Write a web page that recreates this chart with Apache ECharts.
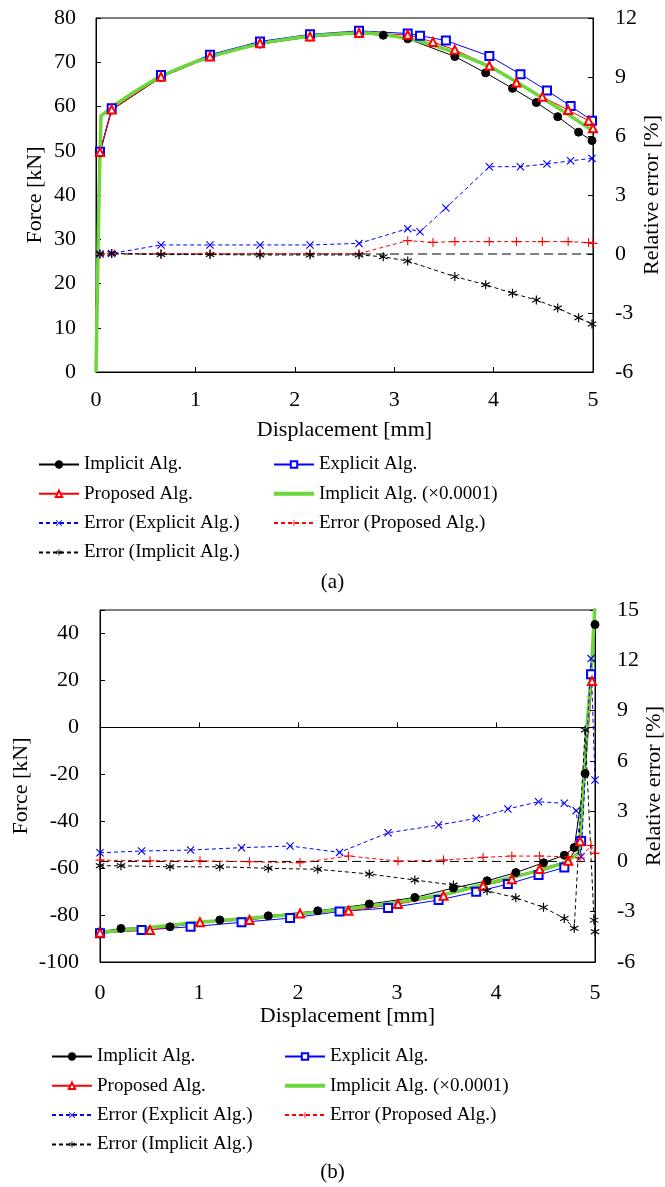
<!DOCTYPE html>
<html><head><meta charset="utf-8">
<script src="https://cdn.jsdelivr.net/npm/echarts@6/dist/echarts.min.js"></script>
<style>html,body{margin:0;padding:0;background:#fff}#c{width:665px;height:1187px}</style>
</head><body><div id="c"></div>
<script>
// ---------- (a) data ----------
const aImpX = [0, 0.04, 0.158, 0.654, 1.147, 1.65, 2.153, 2.646, 2.89, 3.136, 3.61, 3.92, 4.19, 4.43, 4.645, 4.855, 4.99];
const aImpF = [15, 49.5, 59.2, 66.6, 71.2, 74.1, 75.7, 76.5, 76.1, 75.3, 71.3, 67.6, 64.1, 60.9, 57.7, 54.2, 52.3];
const aExpX = [0.04, 0.158, 0.654, 1.147, 1.65, 2.153, 2.646, 3.136, 3.26, 3.52, 3.957, 4.27, 4.537, 4.775, 4.99];
const aExpF = [49.8, 59.6, 67.1, 71.7, 74.7, 76.3, 77.1, 76.5, 76.0, 74.9, 71.4, 67.3, 63.6, 60.1, 56.8];
const aProX = [0.04, 0.158, 0.654, 1.147, 1.65, 2.153, 2.646, 3.136, 3.39, 3.61, 3.957, 4.23, 4.49, 4.75, 4.956, 5.0];
const aProF = [49.7, 59.3, 66.7, 71.3, 74.3, 75.8, 76.6, 76.2, 74.6, 72.8, 69.2, 65.4, 62.2, 59.2, 56.8, 55.1];
const aRefX = [0, 0.03, 0.05, 0.2, 0.4, 0.6, 0.8, 1.0, 1.25, 1.5, 1.75, 2.0, 2.25, 2.5, 2.75, 3.0, 3.25, 3.5, 3.75, 4.0, 4.25, 4.5, 4.75, 5.0];
const aRefF = [0, 40, 57.9, 60.5, 63.5, 66.2, 68.3, 70.1, 71.9, 73.4, 74.6, 75.5, 76.1, 76.5, 76.6, 75.9, 74.8, 73.1, 71.0, 68.6, 65.3, 61.8, 58.2, 54.5];
const aErrExpE = [0, 0.03, 0.46, 0.46, 0.46, 0.46, 0.54, 1.29, 1.13, 2.34, 4.44, 4.44, 4.58, 4.74, 4.86];
const aErrProE = [0, 0.02, 0.02, 0.02, 0.02, 0.02, 0.02, 0.68, 0.59, 0.63, 0.63, 0.63, 0.63, 0.63, 0.58, 0.54];
const aErrImpX = [0.04, 0.158, 0.654, 1.147, 1.65, 2.153, 2.646, 2.89, 3.136, 3.61, 3.92, 4.19, 4.43, 4.645, 4.855, 4.99];
const aErrImpE = [0, 0.03, -0.03, -0.03, -0.05, -0.05, -0.05, -0.14, -0.36, -1.15, -1.56, -2.0, -2.34, -2.75, -3.24, -3.56];

// ---------- (b) data ----------
const bImpX = [0, 0.212, 0.707, 1.21, 1.7, 2.2, 2.72, 3.18, 3.57, 3.91, 4.2, 4.48, 4.69, 4.79, 4.90, 5.0];
const bImpF = [-87.1, -85.7, -85.0, -82.1, -80.3, -78.2, -75.3, -72.5, -68.5, -65.4, -61.9, -57.7, -54.5, -51.2, -19.7, 43.8];
const bExpX = [0, 0.42, 0.915, 1.43, 1.92, 2.42, 2.91, 3.42, 3.80, 4.12, 4.43, 4.69, 4.86, 4.96];
const bExpF = [-87.8, -86.4, -85.0, -83.1, -81.3, -78.5, -77.0, -73.6, -70.1, -66.8, -62.9, -59.7, -48.4, 22.6];
const bProX = [0, 0.505, 1.01, 1.51, 2.02, 2.51, 3.01, 3.47, 3.87, 4.16, 4.44, 4.73, 4.85, 4.97];
const bProF = [-87.5, -86.4, -83.1, -82.1, -79.3, -78.2, -75.3, -71.8, -67.5, -64.7, -60.4, -56.9, -48.5, 19.7];
const bRefX = [0, 0.5, 1, 1.5, 2, 2.5, 3, 3.5, 4, 4.25, 4.5, 4.7, 4.84, 4.88, 4.92, 4.96, 5.0];
const bRefF = [-87.4, -85.3, -83.1, -81.4, -79.6, -77.3, -74.6, -71.0, -65.6, -63.0, -60.4, -57.5, -53.4, -27, 1, 22.6, 52];
const bErrExpX = [0, 0.42, 0.915, 1.43, 1.92, 2.42, 2.91, 3.42, 3.80, 4.12, 4.43, 4.69, 4.81, 4.86, 4.96, 5.0];
const bErrExpE = [0.52, 0.62, 0.68, 0.82, 0.92, 0.54, 1.71, 2.17, 2.57, 3.13, 3.56, 3.47, 3.03, 0.28, 12.1, 4.86];
const bErrProX = [0, 0.505, 1.01, 1.51, 2.02, 2.51, 3.01, 3.47, 3.87, 4.16, 4.44, 4.73, 4.85, 4.96, 5.0];
const bErrProE = [0.08, 0.04, 0.04, -0.02, -0.08, 0.32, 0.02, 0.08, 0.24, 0.32, 0.32, 0.28, 0.2, 0.95, 0.48];
const bErrImpX = [0, 0.212, 0.707, 1.21, 1.7, 2.2, 2.72, 3.18, 3.57, 3.91, 4.2, 4.48, 4.69, 4.79, 4.90, 4.99, 5.0];
const bErrImpE = [-0.26, -0.26, -0.32, -0.32, -0.41, -0.47, -0.75, -1.11, -1.41, -1.75, -2.17, -2.74, -3.4, -3.99, 7.84, -3.5, -4.2];

const zeroX = [0, 5];
const zeroY = [0, 0];

const N_IMP = 'Implicit Alg.', N_EXP = 'Explicit Alg.', N_PRO = 'Proposed Alg.', N_REF = 'Implicit Alg. (×0.0001)';
const N_EE = 'Error (Explicit Alg.)', N_EP = 'Error (Proposed Alg.)', N_EI = 'Error (Implicit Alg.)';

// ---------- helpers ----------
const FONT = 'Liberation Serif';
const pairs = (xs, ys) => xs.map((x, i) => [x, ys[i]]);
const SYM_X = 'path://M0,1L1,0L10,9L9,10ZM9,0L10,1L1,10L0,9Z';
const SYM_PLUS = 'path://M4.4,0L5.6,0L5.6,10L4.4,10ZM0,4.4L10,4.4L10,5.6L0,5.6Z';
const SYM_AST = 'path://M4.4,0L5.6,0L5.6,10L4.4,10ZM0.97,1.98L9.63,6.98L9.03,8.02L0.37,3.02ZM9.03,1.98L9.63,3.02L0.97,8.02L0.37,6.98Z';
const BLUE = '#0000ff', RED = '#ff0000', BLACK = '#000000', GREEN = '#6cd63a';

function forceSeries(name, color, symbol, size, xi, yi, data) {
  return {
    type: 'line', name, xAxisIndex: xi, yAxisIndex: yi, data, color,
    symbol, symbolSize: size, showSymbol: true,
    lineStyle: { width: 1, color },
    itemStyle: { color, borderColor: color, borderWidth: 1 },
    emphasis: { disabled: true }, animation: false
  };
}
function errSeries(name, color, symbol, size, xi, yi, data) {
  return {
    type: 'line', name, xAxisIndex: xi, yAxisIndex: yi, data, color,
    symbol, symbolSize: size,
    lineStyle: { width: 1, color, type: [4, 3] },
    itemStyle: { color },
    emphasis: { disabled: true }, animation: false
  };
}
function refSeries(name, xi, yi, data) {
  return {
    type: 'line', name, xAxisIndex: xi, yAxisIndex: yi, data, color: GREEN,
    symbol: 'none', lineStyle: { width: 3.5, color: GREEN },
    itemStyle: { color: GREEN, opacity: 0 },
    emphasis: { disabled: true }, animation: false, z: 3
  };
}
function zeroSeries(xi, yi) {
  return {
    type: 'line', name: 'zero', xAxisIndex: xi, yAxisIndex: yi, data: pairs(zeroX, zeroY),
    symbol: 'none', silent: true, lineStyle: { width: 1, color: BLACK, type: [9, 5] },
    emphasis: { disabled: true }, animation: false, z: 1
  };
}
// first implicit point of (a) is drawn without a marker
function hideFirstMarker(data) {
  return data.map((d, i) => (i === 0 ? { value: d, symbol: 'none' } : d));
}

const labelStyle = { color: '#000', fontFamily: FONT, fontSize: 22 };
const nameStyle = { color: '#000', fontFamily: FONT, fontSize: 22 };
const axLine = { show: true, onZero: false, lineStyle: { color: '#000', width: 1 } };
const tick = { show: true, inside: true, length: 5, lineStyle: { color: '#000' } };

function xAx(gi, margin, gap) {
  return {
    type: 'value', gridIndex: gi, min: 0, max: 5, interval: 1, position: 'bottom',
    axisLine: axLine, axisTick: tick, splitLine: { show: false },
    axisLabel: Object.assign({ margin }, labelStyle),
    name: 'Displacement [mm]', nameLocation: 'middle', nameGap: gap, nameTextStyle: nameStyle,
    nameMoveOverlap: false
  };
}
function yAx(gi, pos, min, max, interval, name, gap, margin, fmt) {
  return {
    type: 'value', gridIndex: gi, position: pos, min, max, interval,
    axisLine: axLine, axisTick: tick, splitLine: { show: false },
    axisLabel: Object.assign({ margin, formatter: fmt || (v => String(v)) }, labelStyle),
    name, nameLocation: 'middle', nameRotate: 90, nameGap: gap, nameTextStyle: nameStyle,
    nameMoveOverlap: false
  };
}
function legendCol(names, left, top) {
  return {
    data: names.map(n => (n === N_REF
      ? { name: n, itemStyle: { opacity: 0 }, lineStyle: { width: 4, color: GREEN } }
      : { name: n })),
    orient: 'vertical', left, top, itemWidth: 40, itemHeight: 8, itemGap: 10.3,
    selectedMode: false, padding: 0,
    textStyle: { color: '#000', fontFamily: FONT, fontSize: 19, lineHeight: 19, padding: [0, 0, 0, 0] }
  };
}
const gridBase = { show: true, borderColor: '#000', borderWidth: 1, backgroundColor: 'transparent',
  containLabel: false, outerBoundsMode: 'none' };

const option = {
  backgroundColor: '#fff',
  animation: false,
  textStyle: { fontFamily: FONT },
  title: [
    { text: '(a)', left: 'center', top: 567, textStyle: { fontFamily: FONT, fontSize: 21, fontWeight: 'normal', color: '#000' } },
    { text: '(b)', left: 'center', top: 1157, textStyle: { fontFamily: FONT, fontSize: 21, fontWeight: 'normal', color: '#000' } }
  ],
  grid: [
    Object.assign({ left: 96, top: 18, width: 497, height: 354 }, gridBase),
    Object.assign({ left: 100, top: 610, width: 495, height: 352 }, gridBase)
  ],
  xAxis: [
    xAx(0, 17, 47),
    Object.assign(xAx(1, 20, 43), { axisTick: { show: false } }),
    {
      type: 'value', gridIndex: 1, min: 0, max: 5, interval: 1, position: 'bottom',
      axisLine: { show: true, onZero: true, onZeroAxisIndex: 2, lineStyle: { color: '#000', width: 1 } },
      axisTick: tick, axisLabel: { show: false }, splitLine: { show: false }
    }
  ],
  yAxis: [
    yAx(0, 'left', 0, 80, 10, 'Force [kN]', 50, 20),
    yAx(0, 'right', -6, 12, 3, 'Relative error [%]', 48, 22),
    yAx(1, 'left', -100, 50, 20, 'Force [kN]', 68, 21, v => (v === 50 ? '' : String(v))),
    yAx(1, 'right', -6, 15, 3, 'Relative error [%]', 48, 22)
  ],
  legend: [
    legendCol([N_IMP, N_PRO, N_EE, N_EI], 38, 455),
    legendCol([N_EXP, N_REF, N_EP], 272, 455),
    legendCol([N_IMP, N_PRO, N_EE, N_EI], 51, 1047),
    legendCol([N_EXP, N_REF, N_EP], 283, 1047)
  ],
  series: [
    // (a)
    zeroSeries(0, 1),
    forceSeries(N_IMP, BLACK, 'circle', 8, 0, 0, hideFirstMarker(pairs(aImpX, aImpF))),
    forceSeries(N_EXP, BLUE, 'emptyRect', 8, 0, 0, pairs(aExpX, aExpF)),
    forceSeries(N_PRO, RED, 'emptyTriangle', 8, 0, 0, pairs(aProX, aProF)),
    refSeries(N_REF, 0, 0, pairs(aRefX, aRefF)),
    errSeries(N_EE, BLUE, SYM_X, 8, 0, 1, pairs(aExpX, aErrExpE)),
    errSeries(N_EP, RED, SYM_PLUS, 9, 0, 1, pairs(aProX, aErrProE)),
    errSeries(N_EI, BLACK, SYM_AST, 9, 0, 1, pairs(aErrImpX, aErrImpE)),
    // (b)
    zeroSeries(1, 3),
    forceSeries(N_IMP, BLACK, 'circle', 8, 1, 2, pairs(bImpX, bImpF)),
    forceSeries(N_EXP, BLUE, 'emptyRect', 8, 1, 2, pairs(bExpX, bExpF)),
    forceSeries(N_PRO, RED, 'emptyTriangle', 8, 1, 2, pairs(bProX, bProF)),
    refSeries(N_REF, 1, 2, pairs(bRefX, bRefF)),
    errSeries(N_EE, BLUE, SYM_X, 8, 1, 3, pairs(bErrExpX, bErrExpE)),
    errSeries(N_EP, RED, SYM_PLUS, 9, 1, 3, pairs(bErrProX, bErrProE)),
    errSeries(N_EI, BLACK, SYM_AST, 9, 1, 3, pairs(bErrImpX, bErrImpE))
  ]
};

const chart = echarts.init(document.getElementById('c'), null, { renderer: 'canvas' });
chart.setOption(option);
</script></body></html>
